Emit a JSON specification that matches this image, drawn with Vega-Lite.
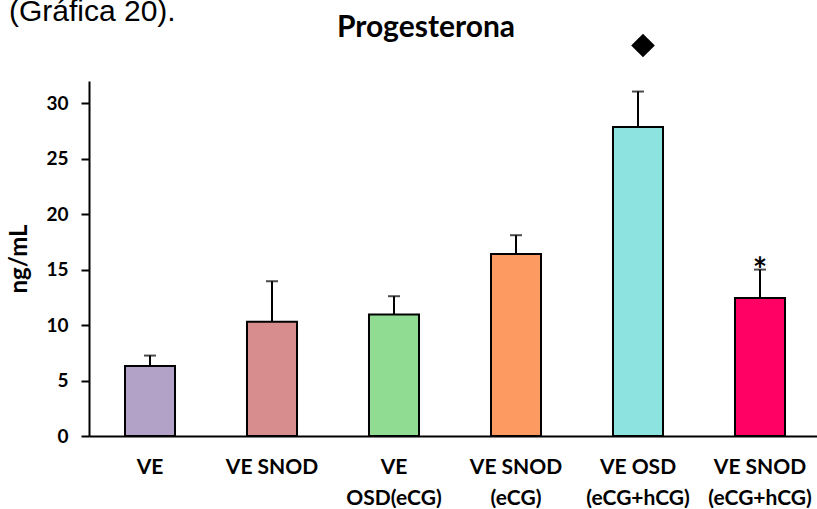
{
  "$schema": "https://vega.github.io/schema/vega-lite/v6.json",
  "background": "white",
  "padding": {"left": 7, "top": -4, "right": 0, "bottom": 0},
  "title": {"text": "(Gráfica 20).", "anchor": "start", "frame": "bounds", "font": "Liberation Sans", "fontSize": 30, "fontWeight": "normal", "color": "black", "offset": -14, "dx": 1},
  "datasets": {
    "grupos": [
      {"grupo": "VE", "media": 6.3, "lim": 7.25},
      {"grupo": "VE SNOD", "media": 10.3, "lim": 13.95},
      {"grupo": "VE OSD(eCG)", "media": 10.95, "lim": 12.6},
      {"grupo": "VE SNOD (eCG)", "media": 16.4, "lim": 18.1},
      {"grupo": "VE OSD (eCG+hCG)", "media": 27.85, "lim": 31.05},
      {"grupo": "VE SNOD (eCG+hCG)", "media": 12.45, "lim": 15.0}
    ],
    "signos": [
      {"grupo": "VE OSD (eCG+hCG)", "sig": "diamante", "y": 35.2},
      {"grupo": "VE SNOD (eCG+hCG)", "sig": "*", "y": 15.0}
    ]
  },
  "vconcat": [
    {
      "width": 732,
      "height": 355,
      "title": {"text": "Progesterona", "anchor": "middle", "font": "Lato", "fontSize": 30, "fontWeight": "bold", "color": "black", "dx": -29, "offset": -9.3},
      "encoding": {
        "x": {
          "field": "grupo", "type": "nominal", "sort": null,
          "scale": {"paddingInner": 0.59, "paddingOuter": 0.295},
          "axis": {
            "title": null, "labelAngle": 0, "ticks": false, "domainWidth": 2, "domainColor": "black",
            "labelFont": "Lato", "labelFontWeight": "bold", "labelFontSize": 21, "labelColor": "black",
            "labelPadding": 20, "labelLineHeight": 31,
            "labelExpr": "datum.value == 'VE OSD(eCG)' ? ['VE', 'OSD(eCG)'] : indexof(datum.value, ' (') > 0 ? [slice(datum.value, 0, indexof(datum.value, ' (')), slice(datum.value, indexof(datum.value, ' (') + 1)] : datum.value"
          }
        }
      },
      "layer": [
        {
          "data": {"name": "grupos"},
          "mark": {"type": "bar", "stroke": "black", "strokeWidth": 2},
          "encoding": {
            "y": {
              "field": "media", "type": "quantitative",
              "scale": {"domain": [0, 32], "nice": false},
              "axis": {
                "title": "ng/mL", "titleFont": "Lato", "titleFontSize": 24, "titleFontWeight": "bold", "titleColor": "black", "titlePadding": 14,
                "values": [0, 5, 10, 15, 20, 25, 30], "grid": false,
                "labelFont": "Lato", "labelFontWeight": "bold", "labelFontSize": 19, "labelColor": "black", "labelPadding": 13,
                "tickSize": 8, "tickWidth": 2, "tickColor": "black", "domainWidth": 2, "domainColor": "black"
              }
            },
            "color": {
              "field": "grupo", "type": "nominal", "sort": null, "legend": null,
              "scale": {"range": ["#b3a2c7", "#d78d8d", "#8fdc92", "#fc9a62", "#8ce3df", "#ff0064"]}
            }
          }
        },
        {
          "data": {"name": "grupos"},
          "mark": {"type": "rule", "color": "black", "strokeWidth": 2},
          "encoding": {
            "y": {"field": "media", "type": "quantitative"},
            "y2": {"field": "lim"}
          }
        },
        {
          "data": {"name": "grupos"},
          "mark": {"type": "tick", "color": "black", "thickness": 2, "size": 12, "orient": "horizontal"},
          "encoding": {
            "y": {"field": "lim", "type": "quantitative"}
          }
        },
        {
          "data": {"name": "signos"},
          "transform": [{"filter": "datum.sig == 'diamante'"}],
          "mark": {"type": "point", "shape": "diamond", "filled": true, "color": "black", "opacity": 1, "size": 560, "xOffset": 5},
          "encoding": {
            "y": {"field": "y", "type": "quantitative"}
          }
        },
        {
          "data": {"name": "signos"},
          "transform": [{"filter": "datum.sig == '*'"}],
          "mark": {"type": "text", "font": "Lato", "fontWeight": "bold", "fontSize": 34, "color": "black", "baseline": "alphabetic", "dy": 12},
          "encoding": {
            "y": {"field": "y", "type": "quantitative"},
            "text": {"field": "sig"}
          }
        }
      ]
    }
  ],
  "config": {"view": {"stroke": null}}
}
